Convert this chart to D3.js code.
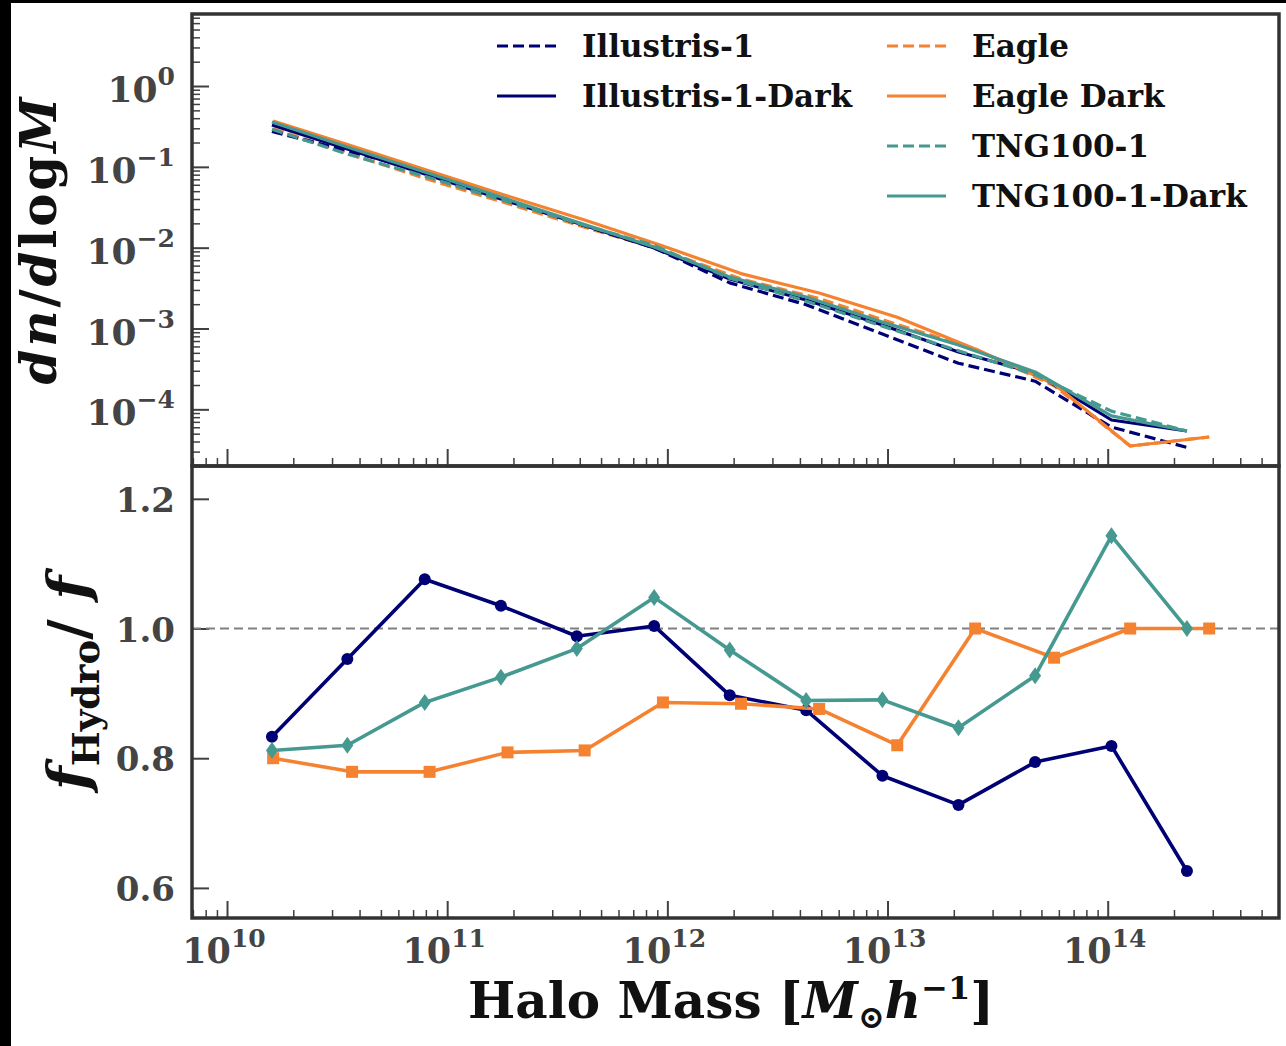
<!DOCTYPE html>
<html><head><meta charset="utf-8">
<script src="https://cdn.jsdelivr.net/npm/d3@7"></script>
<style>body{margin:0;background:#fff;} svg{display:block}</style>
</head><body>
<svg id="c" width="1286" height="1046"></svg>
<script>
// ---------------- DATA ----------------
const massIT = [1.60e10, 3.52e10, 7.91e10, 1.754e11, 3.88e11, 8.71e11, 1.92e12, 4.27e12, 9.48e12, 2.10e13, 4.68e13, 1.04e14, 2.29e14];
const massEagle = [1.62e10, 3.70e10, 8.32e10, 1.88e11, 4.21e11, 9.55e11, 2.16e12, 4.89e12, 1.107e13, 2.50e13, 5.71e13, 1.265e14, 2.89e14];

const illHydro = [0.2745, 0.1583, 0.0877, 0.0414, 0.0200, 0.00995, 0.00367, 0.00197, 0.000853, 0.000372, 0.000223, 6.04e-5, 3.38e-5];
const illDark  = [0.329, 0.1662, 0.0815, 0.0400, 0.0202, 0.00991, 0.00409, 0.00225, 0.001104, 0.000512, 0.000281, 7.38e-5, 5.4e-5];
const tngHydro = [0.292, 0.144, 0.0764, 0.0392, 0.0201, 0.01067, 0.00419, 0.00218, 0.00107, 0.00053, 0.000269, 9.5e-5, 5.4e-5];
const tngDark  = [0.359, 0.176, 0.0863, 0.0424, 0.0207, 0.0102, 0.00434, 0.00245, 0.00120, 0.000625, 0.00029, 8.3e-5, 5.4e-5];
const eagleHydro = [0.295, 0.141, 0.0691, 0.0352, 0.0179, 0.00929, 0.0041, 0.00235, 0.00112, 0.000557, 0.000196, 3.52e-5, 4.55e-5];
const eagleDark  = [0.369, 0.181, 0.0887, 0.0436, 0.0220, 0.0105, 0.00478, 0.00275, 0.00138, 0.000557, 0.000206, 3.52e-5, 4.55e-5];

const illRatio   = [0.833, 0.953, 1.076, 1.035, 0.988, 1.004, 0.897, 0.874, 0.773, 0.728, 0.794, 0.819, 0.626];
const tngRatio   = [0.812, 0.820, 0.886, 0.925, 0.969, 1.048, 0.967, 0.889, 0.890, 0.847, 0.927, 1.143, 1.0];
const eagleRatio = [0.800, 0.779, 0.779, 0.809, 0.812, 0.886, 0.884, 0.876, 0.820, 1.0, 0.955, 1.0, 1.0];

const xTickExps = [10, 11, 12, 13, 14];
const yTopTickExps = [0, -1, -2, -3, -4];
const yBotTicks = [0.6, 0.8, 1.0, 1.2];

const legendLabels = ["Illustris-1", "Illustris-1-Dark", "Eagle", "Eagle Dark", "TNG100-1", "TNG100-1-Dark"];

// ---------------- STYLE ----------------
const NAVY = "#000075", ORANGE = "#f58231", TEAL = "#469990";
const FRAME = "#333333", TICKC = "#404040", LABC = "#444444";
const SERIF = "'DejaVu Serif', serif";

const svg = d3.select('#c');
svg.append('rect').attr('width',1286).attr('height',1046).attr('fill','#fff');
svg.append('rect').attr('x',0).attr('y',0).attr('width',11).attr('height',1046).attr('fill','#000');
svg.append('rect').attr('x',0).attr('y',0).attr('width',1286).attr('height',3).attr('fill','#000');

const L=192, R=1279, T1=14, B1=466, T2=466, B2=918;
const x = d3.scaleLog().domain([Math.pow(10,9.841), Math.pow(10,14.778)]).range([L,R]);
const yTop = d3.scaleLog().domain([Math.pow(10,-4.701), Math.pow(10,0.891)]).range([B1,T1]);
const yBot = d3.scaleLinear().domain([0.5536,1.2506]).range([B2,T2]);

function minorLog(lo, hi, dom){
  const out=[];
  for(let e=lo;e<=hi;e++) for(let k=2;k<=9;k++){const v=k*Math.pow(10,e); if(v>dom[0]&&v<dom[1]) out.push(v);}
  return out;
}
const xMaj = xTickExps.map(e=>Math.pow(10,e));
const xMin = minorLog(9,14,x.domain());
const yMaj = yTopTickExps.map(e=>Math.pow(10,e));
const yMin = minorLog(-5,0,yTop.domain());

function styleAxis(g, w){
  g.select('.domain').remove();
  g.selectAll('.tick line').attr('stroke',TICKC).attr('stroke-width',w);
  g.selectAll('.tick text').remove();
}
svg.append('g').attr('transform',`translate(0,${B1})`).call(d3.axisBottom(x).tickValues(xMaj).tickSize(-17).tickFormat('')).call(g=>styleAxis(g,2));
svg.append('g').attr('transform',`translate(0,${B1})`).call(d3.axisBottom(x).tickValues(xMin).tickSize(-8).tickFormat('')).call(g=>styleAxis(g,1.5));
svg.append('g').attr('transform',`translate(${L},0)`).call(d3.axisLeft(yTop).tickValues(yMaj).tickSize(-17).tickFormat('')).call(g=>styleAxis(g,2));
svg.append('g').attr('transform',`translate(${L},0)`).call(d3.axisLeft(yTop).tickValues(yMin).tickSize(-8).tickFormat('')).call(g=>styleAxis(g,1.5));
svg.append('g').attr('transform',`translate(0,${B2})`).call(d3.axisBottom(x).tickValues(xMaj).tickSize(-17).tickFormat('')).call(g=>styleAxis(g,2));
svg.append('g').attr('transform',`translate(0,${B2})`).call(d3.axisBottom(x).tickValues(xMin).tickSize(-8).tickFormat('')).call(g=>styleAxis(g,1.5));
svg.append('g').attr('transform',`translate(${L},0)`).call(d3.axisLeft(yBot).tickValues(yBotTicks).tickSize(-17).tickFormat('')).call(g=>styleAxis(g,2));

// tick labels
const yTopLab = svg.append('g').attr('font-family',SERIF).attr('font-weight','bold').attr('fill',LABC).attr('text-anchor','end');
yTopTickExps.forEach(e=>{
  const t = yTopLab.append('text').attr('x',175).attr('y',yTop(Math.pow(10,e))+16).attr('font-size',36);
  t.append('tspan').text('10');
  t.append('tspan').attr('dy',-17).attr('font-size',25).text(e===0?'0':'\u2212'+(-e));
});
const yBotLab = svg.append('g').attr('font-family',SERIF).attr('font-weight','bold').attr('fill',LABC).attr('text-anchor','end');
yBotTicks.forEach(v=>{
  yBotLab.append('text').attr('x',175).attr('y',yBot(v)+13).attr('font-size',34).text(v.toFixed(1));
});
const xLab = svg.append('g').attr('font-family',SERIF).attr('font-weight','bold').attr('fill',LABC).attr('text-anchor','middle');
xTickExps.forEach(e=>{
  const t = xLab.append('text').attr('x',x(Math.pow(10,e))-3).attr('y',963).attr('font-size',35);
  t.append('tspan').text('10');
  t.append('tspan').attr('dy',-16).attr('font-size',25).text(String(e));
});

// ---------------- TOP PANEL LINES ----------------
const lineTop = d3.line().x(d=>x(d[0])).y(d=>yTop(d[1]));
const topSeries = [
  {m:massEagle, v:eagleHydro, c:ORANGE, dash:true},
  {m:massIT, v:illHydro, c:NAVY, dash:true},
  {m:massIT, v:illDark, c:NAVY, dash:false},
  {m:massEagle, v:eagleDark, c:ORANGE, dash:false},
  {m:massIT, v:tngHydro, c:TEAL, dash:true},
  {m:massIT, v:tngDark, c:TEAL, dash:false},
];
topSeries.forEach(s=>{
  svg.append('path').datum(s.m.map((m,i)=>[m,s.v[i]])).attr('d',lineTop)
    .attr('fill','none').attr('stroke',s.c).attr('stroke-width',3.2)
    .attr('stroke-dasharray',s.dash?'11,5':null).attr('stroke-linejoin','round');
});

// ---------------- BOTTOM PANEL ----------------
svg.append('line').attr('x1',L).attr('x2',R).attr('y1',yBot(1)).attr('y2',yBot(1))
  .attr('stroke','#808080').attr('stroke-width',2).attr('stroke-dasharray','9,5');
const lineBot = d3.line().x(d=>x(d[0])).y(d=>yBot(d[1]));
function drawRatio(m, v, c, marker){
  const data = m.map((mm,i)=>[mm,v[i]]);
  svg.append('path').datum(data).attr('d',lineBot).attr('fill','none').attr('stroke',c).attr('stroke-width',3.6).attr('stroke-linejoin','round');
  const g = svg.append('g').attr('fill',c);
  data.forEach(d=>{
    const px=x(d[0]), py=yBot(d[1]);
    if(marker==='o') g.append('circle').attr('cx',px).attr('cy',py).attr('r',6);
    else if(marker==='s') g.append('rect').attr('x',px-6).attr('y',py-6).attr('width',12).attr('height',12);
    else g.append('path').attr('d',`M${px},${py-8.5}L${px+6},${py}L${px},${py+8.5}L${px-6},${py}Z`);
  });
}
drawRatio(massIT, illRatio, NAVY, 'o');
drawRatio(massEagle, eagleRatio, ORANGE, 's');
drawRatio(massIT, tngRatio, TEAL, 'd');

// ---------------- FRAMES ----------------
svg.append('rect').attr('x',L).attr('y',T1).attr('width',R-L).attr('height',B1-T1).attr('fill','none').attr('stroke',FRAME).attr('stroke-width',3.5);
svg.append('rect').attr('x',L).attr('y',T2).attr('width',R-L).attr('height',B2-T2).attr('fill','none').attr('stroke',FRAME).attr('stroke-width',3.5);

// ---------------- LEGEND ----------------
const legItems = [
  {lab:legendLabels[0], c:NAVY, dash:true, lx:497, ty:46},
  {lab:legendLabels[1], c:NAVY, dash:false, lx:497, ty:96},
  {lab:legendLabels[2], c:ORANGE, dash:true, lx:887, ty:46},
  {lab:legendLabels[3], c:ORANGE, dash:false, lx:887, ty:96},
  {lab:legendLabels[4], c:TEAL, dash:true, lx:887, ty:146},
  {lab:legendLabels[5], c:TEAL, dash:false, lx:887, ty:196},
];
const leg = svg.append('g');
legItems.forEach(it=>{
  leg.append('line').attr('x1',it.lx).attr('x2',it.lx+59).attr('y1',it.ty).attr('y2',it.ty)
    .attr('stroke',it.c).attr('stroke-width',3).attr('stroke-dasharray',it.dash?'11,5':null);
  leg.append('text').attr('x',it.lx+85).attr('y',it.ty+11).attr('font-family',SERIF).attr('font-weight','bold')
    .attr('font-size',31).attr('fill','#111').text(it.lab);
});

// ---------------- AXIS TITLES ----------------
const xt = svg.append('text').attr('x',731).attr('y',1018).attr('text-anchor','middle')
  .attr('font-family',SERIF).attr('font-weight','bold').attr('font-size',50).attr('fill','#111');
xt.append('tspan').text('Halo Mass [');
xt.append('tspan').attr('font-style','italic').text('M');
xt.append('tspan').attr('font-size',32).attr('dy',10).text('\u2299');
xt.append('tspan').attr('font-style','italic').attr('dy',-10).text('h');
xt.append('tspan').attr('font-size',32).attr('dy',-19).text('\u22121');
xt.append('tspan').attr('dy',19).text(']');

const yt1 = svg.append('text').attr('transform','translate(56,241) rotate(-90)').attr('text-anchor','middle')
  .attr('font-family',SERIF).attr('font-weight','bold').attr('font-size',50).attr('fill','#111')
  .attr('textLength',287).attr('lengthAdjust','spacing');
yt1.append('tspan').attr('font-style','italic').text('dn');
yt1.append('tspan').text('/');
yt1.append('tspan').attr('font-style','italic').text('d');
yt1.append('tspan').text('log');
yt1.append('tspan').attr('font-style','italic').text('M');

const yt2 = svg.append('text').attr('transform','translate(88,683) rotate(-90)').attr('text-anchor','middle')
  .attr('font-family',SERIF).attr('font-weight','bold').attr('font-size',56).attr('fill','#111');
yt2.append('tspan').attr('font-style','italic').text('f');
yt2.append('tspan').attr('font-size',37).attr('dy',11).text('Hydro');
yt2.append('tspan').attr('dy',-11).text('/');
yt2.append('tspan').attr('font-style','italic').text(' f');
</script>
</body></html>
